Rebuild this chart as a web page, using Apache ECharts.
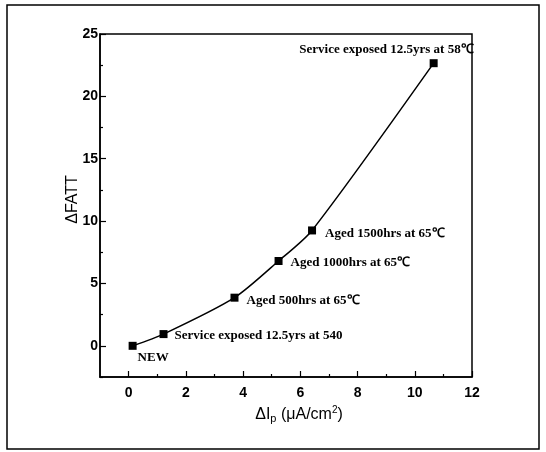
<!DOCTYPE html>
<html>
<head>
<meta charset="utf-8">
<script src="https://cdn.jsdelivr.net/npm/echarts@6/dist/echarts.min.js"></script>
<style>html,body{margin:0;padding:0;background:#fff;}#c{width:546px;height:452px;}</style>
</head>
<body>
<div id="c"></div>
<script>
const xValues = [0.14, 1.22, 3.70, 5.24, 6.41, 10.66];
const yValues = [0, 0.94, 3.86, 6.8, 9.25, 22.66];
const pointLabels = ['NEW', 'Service exposed 12.5yrs at 540', 'Aged 500hrs at 65\u2103', 'Aged 1000hrs at 65\u2103', 'Aged 1500hrs at 65\u2103', 'Service exposed 12.5yrs at 58\u2103'];
const xMajorTicks = [0, 2, 4, 6, 8, 10, 12];
const xMinorTicks = [1, 3, 5, 7, 9, 11];
const yMajorTicks = [0, 5, 10, 15, 20, 25];
const yMinorTicks = [-2.5, 2.5, 7.5, 12.5, 17.5, 22.5];

const labelStyles = [
  {position: 'bottom', align: 'left', offset: [5, -4]},
  {position: 'right', offset: [2, 2]},
  {position: 'right', offset: [3, 3]},
  {position: 'right', offset: [3, 2]},
  {position: 'right', offset: [4, 3]},
  {position: 'top', align: 'right', offset: [40, 2]}
];

const data = xValues.map((x, i) => ({
  value: [x, yValues[i]],
  label: Object.assign({show: true, formatter: pointLabels[i]}, labelStyles[i])
}));

const chart = echarts.init(document.getElementById('c'));
const tickFont = {fontFamily: 'Liberation Sans, Arial, sans-serif', fontWeight: 'bold', fontSize: 14, color: '#000'};
chart.setOption({
  animation: false,
  backgroundColor: '#fff',
  graphic: [{
    type: 'rect', shape: {x: 7, y: 5, width: 532, height: 444},
    style: {fill: 'none', stroke: '#000', lineWidth: 1.5}, silent: true
  }],
  grid: {left: 100, right: 74, top: 34, bottom: 75, show: true, borderColor: '#000', borderWidth: 1.5, backgroundColor: 'transparent'},
  xAxis: [{
    type: 'value', min: -1, max: 12,
    name: '{a|\u0394I}{s|p}{a| (\u03bcA/cm}{t|2}{a|)}',
    nameLocation: 'middle', nameGap: 28, nameMoveOverlap: false,
    nameTextStyle: {padding: [0, 0, 0, 26], rich: {
      a: {fontFamily: 'Liberation Sans, Arial, sans-serif', fontSize: 16, color: '#000'},
      s: {fontFamily: 'Liberation Sans, Arial, sans-serif', fontSize: 11, color: '#000', verticalAlign: 'bottom', padding: [8, 0, 0, 0]},
      t: {fontFamily: 'Liberation Sans, Arial, sans-serif', fontSize: 10, color: '#000', verticalAlign: 'top', padding: [0, 0, 8, 0]}
    }},
    axisLine: {show: true, onZero: false, lineStyle: {color: '#000', width: 1.5}},
    axisTick: {show: true, inside: true, length: 6, customValues: xMajorTicks, lineStyle: {color: '#000', width: 1.2}},
    axisLabel: Object.assign({customValues: xMajorTicks, margin: 9}, tickFont),
    splitLine: {show: false}
  }, {
    type: 'value', min: -1, max: 12, position: 'bottom',
    axisLine: {show: false, onZero: false},
    axisTick: {show: true, inside: true, length: 3, customValues: xMinorTicks, lineStyle: {color: '#000', width: 1.2}},
    axisLabel: {show: false}, splitLine: {show: false}
  }],
  yAxis: [{
    type: 'value', min: -2.5, max: 25,
    name: '\u0394FATT', nameLocation: 'middle', nameGap: 19, nameMoveOverlap: false,
    nameTextStyle: {fontFamily: 'Liberation Sans, Arial, sans-serif', fontSize: 16, color: '#000', padding: [0, 0, 0, 12]},
    axisLine: {show: true, onZero: false, lineStyle: {color: '#000', width: 1.5}},
    axisTick: {show: true, inside: true, length: 6, customValues: yMajorTicks, lineStyle: {color: '#000', width: 1.2}},
    axisLabel: Object.assign({customValues: yMajorTicks, margin: 2}, tickFont),
    splitLine: {show: false}
  }, {
    type: 'value', min: -2.5, max: 25, position: 'left',
    axisLine: {show: false, onZero: false},
    axisTick: {show: true, inside: true, length: 3, customValues: yMinorTicks, lineStyle: {color: '#000', width: 1.2}},
    axisLabel: {show: false}, splitLine: {show: false}
  }],
  series: [{
    type: 'line',
    xAxisIndex: 0, yAxisIndex: 0,
    data: data,
    smooth: 0.25,
    symbol: 'rect', symbolSize: 8,
    lineStyle: {color: '#000', width: 1.5},
    itemStyle: {color: '#000'},
    label: {fontFamily: 'Liberation Serif, Times New Roman, serif', fontWeight: 'bold', fontSize: 13, color: '#000'}
  }]
});
</script>
</body>
</html>
